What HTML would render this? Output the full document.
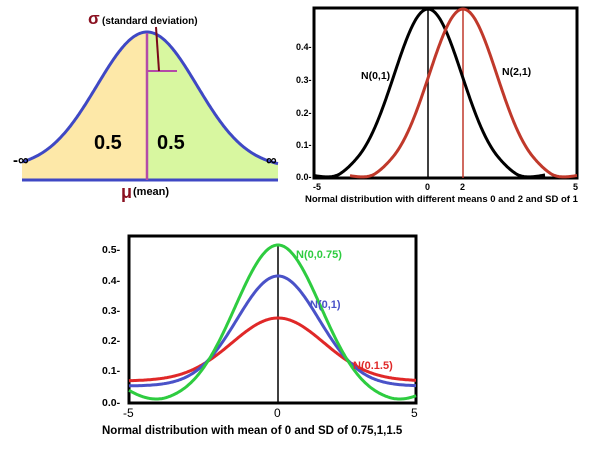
<!DOCTYPE html>
<html><head><meta charset="utf-8"><style>
body{margin:0;background:#fff;width:600px;height:450px;overflow:hidden}
svg text{font-family:"Liberation Sans",sans-serif;font-weight:bold}
</style></head><body>
<svg id="s" width="600" height="450" viewBox="0 0 600 450" xmlns="http://www.w3.org/2000/svg">
<path id="yl" fill="#fde8a8"/>
<path id="gr" fill="#d8f7a0"/>
<line x1="22" y1="180" x2="278" y2="180" stroke="#3f48c4" stroke-width="3"/>
<path id="bc" fill="none" stroke="#3f48c4" stroke-width="3"/>
<line x1="147" y1="33" x2="147" y2="180" stroke="#b44aa8" stroke-width="2.5"/>
<line x1="147" y1="71" x2="177" y2="71" stroke="#b44aa8" stroke-width="2"/>
<line x1="156" y1="27" x2="159" y2="71" stroke="#7a0a1a" stroke-width="2"/>
<text x="88" y="24" font-size="17" fill="#8a1020">σ</text>
<text x="102" y="24" font-size="10" fill="#000">(standard deviation)</text>
<text x="94" y="149" font-size="20" fill="#000">0.5</text>
<text x="157" y="149" font-size="20" fill="#000">0.5</text>
<text x="13" y="165" font-size="15" fill="#000">-∞</text>
<text x="266" y="165" font-size="15" fill="#000">∞</text>
<text x="121" y="198" font-size="18" fill="#8a1020">μ</text>
<text x="133" y="195" font-size="11" fill="#000">(mean)</text>
<rect x="314" y="8" width="263" height="170" fill="none" stroke="#000" stroke-width="3"/>
<g font-size="9" fill="#000">
<text x="296" y="50">0.4-</text><text x="296" y="83">0.3-</text><text x="296" y="116">0.2-</text><text x="296" y="148">0.1-</text><text x="296" y="180">0.0-</text>
<text x="313" y="190">-5</text><text x="425" y="190">0</text><text x="460" y="190">2</text><text x="573" y="190">5</text>
</g>
<line x1="428" y1="9" x2="428" y2="178" stroke="#000" stroke-width="1.5"/>
<line x1="463" y1="9" x2="463" y2="178" stroke="#c0392b" stroke-width="1.5"/>
<path id="k1" fill="none" stroke="#000" stroke-width="3"/>
<path id="r1" fill="none" stroke="#c0392b" stroke-width="3"/>
<text x="361" y="79" font-size="10.5" fill="#000">N(0,1)</text>
<text x="502" y="75" font-size="10.5" fill="#000">N(2,1)</text>
<text x="305" y="202" font-size="9.5" fill="#000">Normal distribution with different means 0 and 2 and SD of 1</text>
<rect x="129" y="236" width="287" height="167" fill="none" stroke="#000" stroke-width="3"/>
<g font-size="10.5" fill="#000">
<text x="102" y="253">0.5-</text><text x="102" y="284">0.4-</text><text x="102" y="314">0.3-</text><text x="102" y="344">0.2-</text><text x="102" y="374">0.1-</text><text x="102" y="406">0.0-</text>
</g>
<g font-size="12" fill="#000"><text x="123" y="417" style="font-weight:normal">-5</text><text x="274" y="417" style="font-weight:normal">0</text><text x="411" y="417" style="font-weight:normal">5</text></g>
<line x1="278" y1="245" x2="278" y2="403" stroke="#000" stroke-width="1.5"/>
<path id="rd" fill="none" stroke="#e02828" stroke-width="3"/>
<path id="bl" fill="none" stroke="#4a52c8" stroke-width="3"/>
<path id="gn" fill="none" stroke="#2ecc40" stroke-width="3"/>
<text x="296" y="258" font-size="11" fill="#2ecc40">N(0,0.75)</text>
<text x="310" y="308" font-size="11" fill="#4a52c8">N(0,1)</text>
<text x="353" y="369" font-size="11" fill="#e02828">N(0.1.5)</text>
<text x="102" y="434" font-size="11.5" fill="#000">Normal distribution with mean of 0 and SD of 0.75,1,1.5</text>
</svg>
<script>
function P(f,x0,x1){let d="";for(let x=x0;x<=x1;x+=1){d+=(x==x0?"M":"L")+x+","+f(x).toFixed(1)+" ";}return d;}
const g=(x,c,s)=>Math.exp(-((x-c)*(x-c))/(2*s*s));
const tl=x=>168-136*g(x,147,50);
document.getElementById("bc").setAttribute("d",P(tl,22,278));
document.getElementById("yl").setAttribute("d",P(tl,22,147)+"L147,179 L22,179 Z");
document.getElementById("gr").setAttribute("d",P(tl,147,278)+"L278,179 L147,179 Z");
const k=(x,c)=>{let v=177-168*g(x,c,34);let d=Math.abs(x-c);if(d>70)v+=3*Math.sin((d-70)/40*Math.PI)*Math.min(1,(d-70)/20);return Math.min(v,180);};
document.getElementById("k1").setAttribute("d",P(x=>k(x,428),314,545));
document.getElementById("r1").setAttribute("d",P(x=>k(x,463),350,577));
document.getElementById("rd").setAttribute("d",P(x=>381-63*g(x,278,46),129,416));
document.getElementById("bl").setAttribute("d",P(x=>386-110*g(x,278,41),129,416));
const gf=x=>{let d=Math.abs(x-278);let v=403-158*g(x,278,43);if(d>110)v-=13*Math.pow((d-110)/40,2);return v;};
document.getElementById("gn").setAttribute("d",P(gf,129,416));
</script>
</body></html>
